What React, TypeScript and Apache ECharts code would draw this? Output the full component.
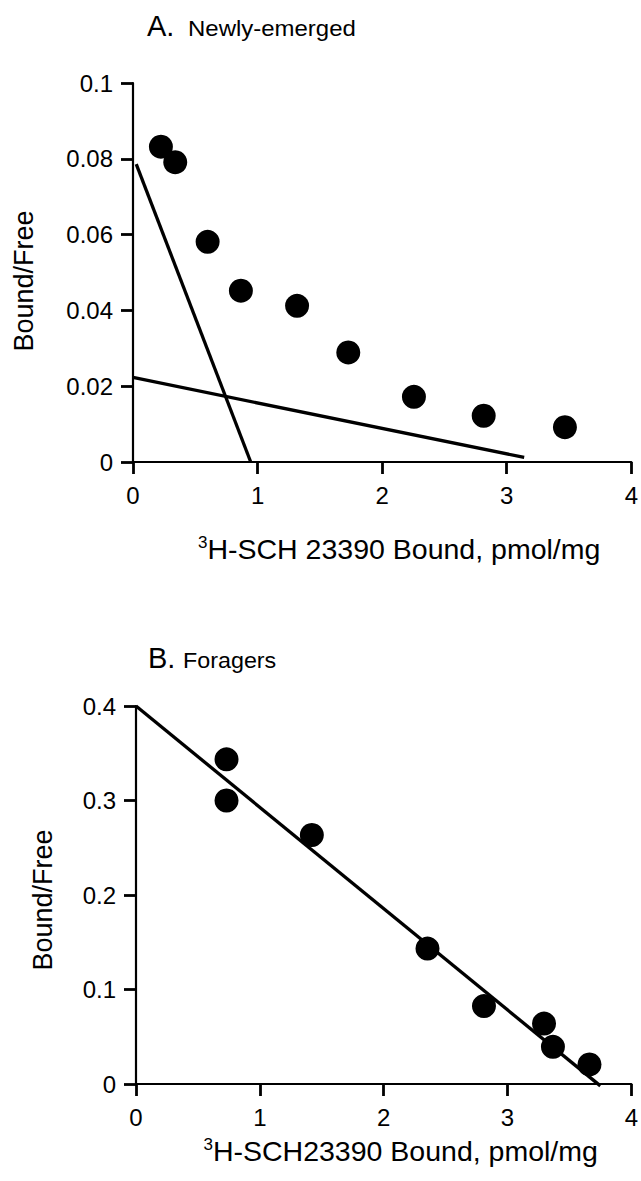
import React, { useEffect, useRef } from "react";
import * as echarts from "echarts";

// Panel A: Newly-emerged
const newlyBound = [0.224, 0.339, 0.599, 0.866, 1.317, 1.728, 2.255, 2.815, 3.467];
const newlyRatio = [0.0832, 0.0791, 0.0581, 0.0452, 0.0412, 0.0289, 0.0172, 0.0122, 0.0092];
const newlyHighLineX = [0.026, 0.945];
const newlyHighLineY = [0.0786, 0];
const newlyLowLineX = [0, 3.14];
const newlyLowLineY = [0.0223, 0.0012];

// Panel B: Foragers
const foragerBound = [0.731, 0.731, 1.42, 2.354, 2.81, 3.295, 3.367, 3.662];
const foragerRatio = [0.3436, 0.3, 0.2635, 0.1433, 0.0825, 0.0639, 0.0393, 0.0207];
const foragerLineX = [0, 3.75];
const foragerLineY = [0.4, -0.002];

// Tick labels
const xTickLabels = ["0", "1", "2", "3", "4"];
const yTickLabelsA = ["0", "0.02", "0.04", "0.06", "0.08", "0.1"];
const yTickLabelsB = ["0", "0.1", "0.2", "0.3", "0.4"];

const FONT = "Liberation Sans";

const zip = (xs: number[], ys: number[]) => xs.map((x, i) => [x, ys[i]]);

export default function App() {
  const ref = useRef<HTMLDivElement>(null);

  useEffect(() => {
    document.body.style.margin = "0";
    if (!ref.current) return;
    const chart = echarts.init(ref.current, undefined, { renderer: "svg" });

    const axisLine = { show: true, lineStyle: { color: "#000", width: 2.2 } };
    const axisTick = { show: true, length: 12, lineStyle: { color: "#000", width: 2.8 } };

    const xAxisBase = (gridIndex: number, nameGap: number, name: string) => ({
      type: "value",
      gridIndex,
      min: 0,
      max: 4,
      interval: 1,
      splitLine: { show: false },
      axisLine,
      axisTick,
      axisLabel: {
        fontSize: 24,
        fontFamily: FONT,
        color: "#000",
        margin: 21,
        formatter: (v: number) => xTickLabels[Math.round(v)] ?? String(v),
      },
      name,
      nameLocation: "middle",
      nameGap,
      nameTextStyle: {
        padding: [0, 0, 0, 34],
        rich: {
          sup: { fontSize: 17, fontFamily: FONT, color: "#000", verticalAlign: "top" },
          main: { fontSize: 28.5, fontFamily: FONT, color: "#000" },
        },
      },
    });

    const yAxisBase = (
      gridIndex: number,
      max: number,
      interval: number,
      labels: string[],
      nameGap: number,
      shift: number
    ) => ({
      type: "value",
      gridIndex,
      min: 0,
      max,
      interval,
      splitLine: { show: false },
      axisLine,
      axisTick,
      axisLabel: {
        fontSize: 24,
        fontFamily: FONT,
        color: "#000",
        margin: 20,
        formatter: (v: number) => labels[Math.round(v / interval)] ?? String(v),
      },
      name: "Bound/Free",
      nameLocation: "middle",
      nameGap,
      nameTextStyle: {
        fontSize: 27,
        fontFamily: FONT,
        color: "#000",
        padding: [0, shift, 0, 0],
      },
    });

    const lineSeries = (idx: number, data: number[][]) => ({
      type: "line",
      xAxisIndex: idx,
      yAxisIndex: idx,
      data,
      symbol: "none",
      clip: false,
      lineStyle: { color: "#000", width: 3.3 },
      z: 2,
    });

    const scatterSeries = (idx: number, data: number[][]) => ({
      type: "scatter",
      xAxisIndex: idx,
      yAxisIndex: idx,
      data,
      symbol: "circle",
      symbolSize: 24,
      itemStyle: { color: "#000", opacity: 1 },
      z: 3,
    });

    chart.setOption({
      animation: false,
      backgroundColor: "#fff",
      grid: [
        { left: 133, top: 83, width: 499, height: 379 },
        { left: 136, top: 706, width: 500, height: 378 },
      ],
      xAxis: [
        xAxisBase(0, 72, "{sup|3}{main|H-SCH 23390 Bound, pmol/mg}"),
        xAxisBase(1, 52, "{sup|3}{main|H-SCH23390 Bound, pmol/mg}"),
      ],
      yAxis: [
        yAxisBase(0, 0.1, 0.02, yTickLabelsA, 96, 17),
        yAxisBase(1, 0.4, 0.1, yTickLabelsB, 80, 10),
      ],
      series: [
        lineSeries(0, zip(newlyHighLineX, newlyHighLineY)),
        lineSeries(0, zip(newlyLowLineX, newlyLowLineY)),
        scatterSeries(0, zip(newlyBound, newlyRatio)),
        lineSeries(1, zip(foragerLineX, foragerLineY)),
        scatterSeries(1, zip(foragerBound, foragerRatio)),
      ],
      graphic: [
        {
          type: "text",
          x: 147,
          y: 26,
          style: {
            text: "A.",
            fontSize: 29,
            fontFamily: FONT,
            fill: "#000",
            align: "left",
            verticalAlign: "middle",
          },
        },
        {
          type: "text",
          x: 188,
          y: 28,
          scaleX: 1.09,
          style: {
            text: "Newly-emerged",
            fontSize: 22,
            fontFamily: FONT,
            fill: "#000",
            align: "left",
            verticalAlign: "middle",
          },
        },
        {
          type: "text",
          x: 148,
          y: 658,
          style: {
            text: "B.",
            fontSize: 29,
            fontFamily: FONT,
            fill: "#000",
            align: "left",
            verticalAlign: "middle",
          },
        },
        {
          type: "text",
          x: 183,
          y: 660,
          scaleX: 1.06,
          style: {
            text: "Foragers",
            fontSize: 22,
            fontFamily: FONT,
            fill: "#000",
            align: "left",
            verticalAlign: "middle",
          },
        },
      ],
    });

    return () => chart.dispose();
  }, []);

  return <div ref={ref} style={{ width: 641, height: 1181 }} />;
}
